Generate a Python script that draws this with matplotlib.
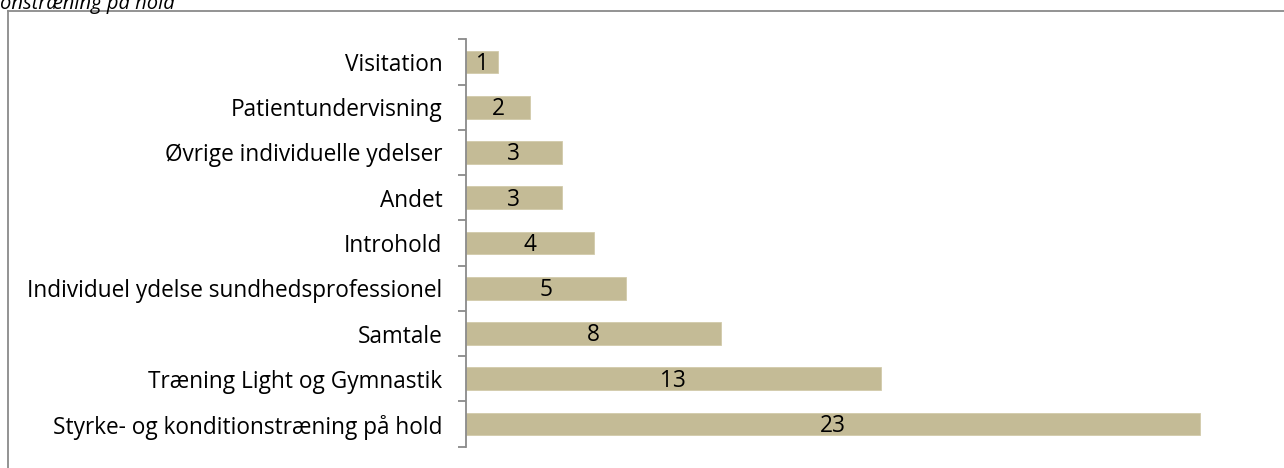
import matplotlib
matplotlib.use("Agg")
import matplotlib.pyplot as plt
from matplotlib.lines import Line2D
from matplotlib.ticker import FixedLocator

categories = ["Visitation", "Patientundervisning", "Øvrige individuelle ydelser", "Andet",
              "Introhold", "Individuel ydelse sundhedsprofessionel", "Samtale",
              "Træning Light og Gymnastik", "Styrke- og konditionstræning på hold"]
values = [1, 2, 3, 3, 4, 5, 8, 13, 23]
value_labels = ["1", "2", "3", "3", "4", "5", "8", "13", "23"]

W, H = 1284, 468
dpi = 100
fig = plt.figure(figsize=(W / dpi, H / dpi), dpi=dpi)
plt.rcParams['font.family'] = ['Open Sans', 'DejaVu Sans']
FS = 16.3

# frame lines (top and left only visible)
fig.add_artist(Line2D([8 / W, 1.0], [1 - 11 / H, 1 - 11 / H], transform=fig.transFigure,
                      color="#8a8a8a", lw=1.3))
fig.add_artist(Line2D([8 / W, 8 / W], [0.0, 1 - 11 / H], transform=fig.transFigure,
                      color="#8a8a8a", lw=1.3))

# cut-off title
fig.text(0 / W, 1 - 8.5 / H, "onstræning på hold", style="italic", fontsize=14.5,
         ha="left", va="baseline", color="black")

x0 = 466
pxu = 31.9
xmax = 25
ax = fig.add_axes([x0 / W, 1 - 446.7 / H, xmax * pxu / W, 407.4 / H])
ax.set_xlim(0, xmax)
n = len(categories)
ax.set_ylim(n - 0.5, -0.5)
ypos = list(range(n))
ax.barh(ypos, values, height=0.5, color="#C4BB96", edgecolor="#D2CBAA", linewidth=0.6)
for y, v, lab in zip(ypos, values, value_labels):
    ax.text(v / 2, y + 0.04, lab, ha="center", va="center", fontsize=FS, color="black")

for s in ["top", "right", "bottom"]:
    ax.spines[s].set_visible(False)
ax.spines["left"].set_color("#8a8a8a")
ax.spines["left"].set_linewidth(1.3)
ax.set_xticks([])
ax.set_yticks(ypos)
ax.set_yticklabels(categories, fontsize=FS)
ax.tick_params(axis="y", which="major", length=0, pad=17)
ax.yaxis.set_minor_locator(FixedLocator([i - 0.5 for i in range(n + 1)]))
ax.tick_params(axis="y", which="minor", length=6, width=1.3, color="#8a8a8a")

fig.savefig("out.png", dpi=dpi)
